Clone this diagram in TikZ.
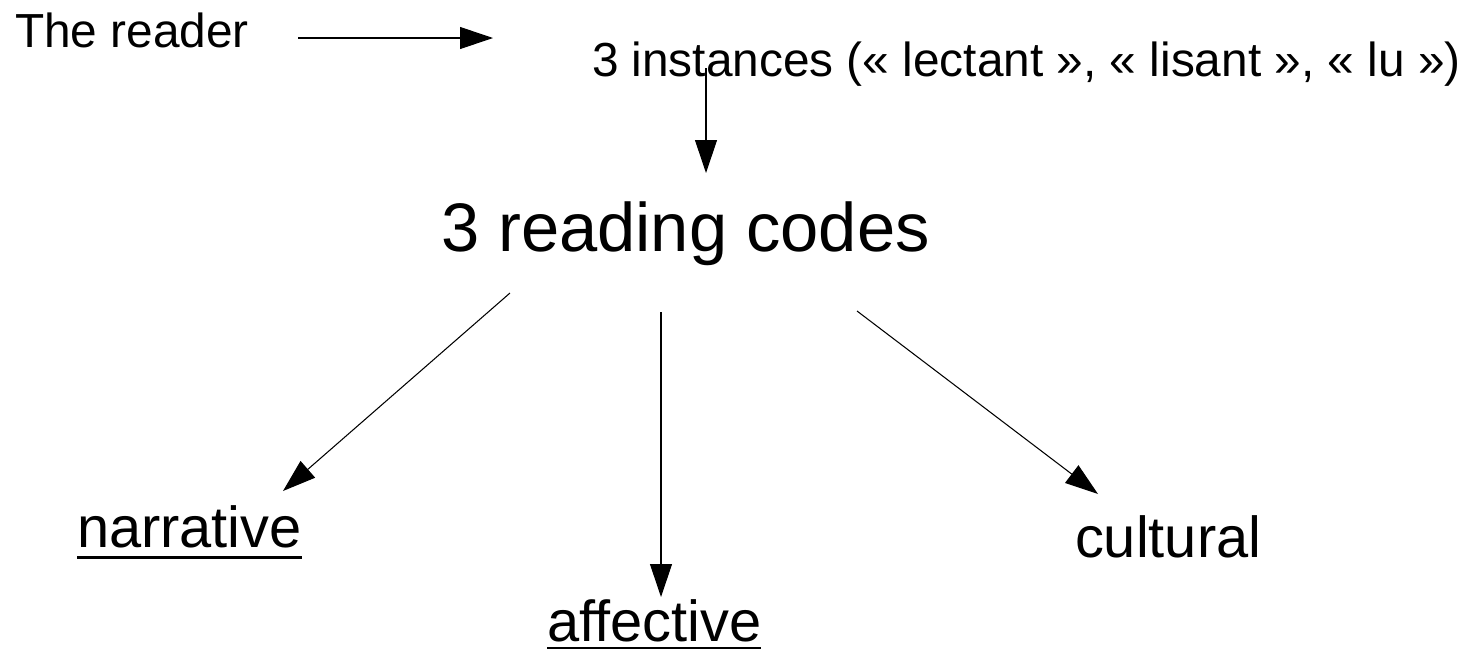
\documentclass[tikz,border=0pt]{standalone}
\usepackage{fontspec}
\setmainfont{Liberation Sans}
\usetikzlibrary{arrows.meta}
\tikzset{
  lbl/.style={anchor=base west, inner sep=0pt, outer sep=0pt},
  small/.style={lbl, font=\fontsize{27.2}{31}\selectfont},
  mid/.style={lbl, font=\fontsize{32.9}{38}\selectfont},
  big/.style={lbl, font=\fontsize{39.1}{45}\selectfont},
  conn/.style={draw=black, line width=0.6pt, -{Triangle[length=0.66cm,width=0.44cm]}},
  uline/.style={draw=black, line width=1.6pt}
}
\begin{document}
\begin{tikzpicture}[x=0.02cm, y=-0.02cm]
\useasboundingbox (0,0) rectangle (1466,650);
\node[small] (reader) at (15,47) {The reader};
\node[small] (inst) at (592,76) {3 instances (« lectant », « lisant », « lu »)};
\node[big] (codes) at (441,251) {3 reading codes};
\node[mid] (nar) at (77,547) {narrative};
\node[mid] (aff) at (547,641) {affective};
\node[mid] (cul) at (1075,557) {cultural};
\draw[uline] ([yshift=-6pt]nar.base west) -- ([yshift=-6pt]nar.base east);
\draw[uline] ([yshift=-4pt]aff.base west) -- ([yshift=-4pt]aff.base east);
\coordinate (a1s) at (298,38); \coordinate (a1e) at (493,38);
\coordinate (a2s) at (706,68); \coordinate (a2e) at (706,173);
\coordinate (a3s) at (510,293); \coordinate (a3e) at (283,491);
\coordinate (a4s) at (661,312); \coordinate (a4e) at (661,597);
\coordinate (a5s) at (857,311); \coordinate (a5e) at (1098,494);
\draw[conn] (a1s) -- (a1e);
\draw[conn] (a2s) -- (a2e);
\draw[conn] (a3s) -- (a3e);
\draw[conn] (a4s) -- (a4e);
\draw[conn] (a5s) -- (a5e);
\end{tikzpicture}
\end{document}
